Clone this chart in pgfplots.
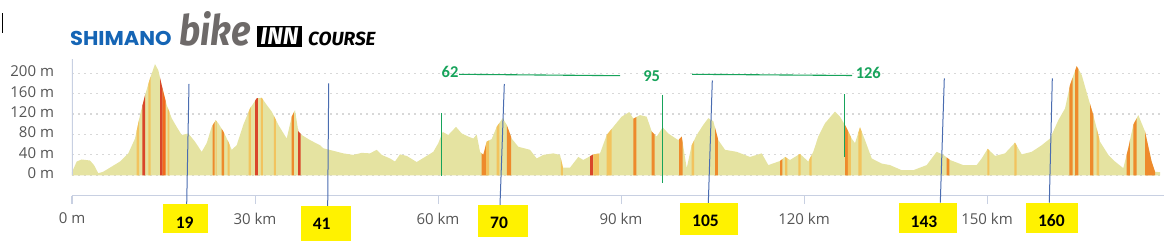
\documentclass[border=0pt]{standalone}
\usepackage{pgfplots}
\pgfplotsset{compat=1.18}
\usepackage{pgfplotstable}
\usepackage{fontspec}
\setmainfont{Open Sans}
\newfontfamily\numfont{Carlito}
\newfontfamily\logofont{Poppins}
\newfontfamily\bikefont{Fira Sans}
\definecolor{terrain}{HTML}{E5E3A1}
\definecolor{cL}{HTML}{F2C35E}
\definecolor{cO}{HTML}{EE8A2C}
\definecolor{cR}{HTML}{D9462A}
\definecolor{cOr}{HTML}{F26A1E}
\definecolor{axc}{HTML}{C8D0E2}
\definecolor{gridc}{HTML}{D8D8D8}
\definecolor{tickc}{HTML}{555555}
\definecolor{shimblue}{HTML}{1565B5}
\definecolor{bikegray}{HTML}{6E6A69}
\definecolor{annblue}{HTML}{4A6CB0}
\definecolor{anngreen}{HTML}{17A35B}

\pgfplotstableread{
km m
0 6
0.77 27
1.59 31
2.95 29
3.61 20
4.31 4
5.13 7
7.87 27
9.23 43
10.33 72
11.15 118
11.97 157
12.79 190
13.61 218
14.15 206
14.70 177
15.52 138
16.34 112
17.16 95
17.98 79
19.07 82
20.16 66
21.26 46
22.08 63
22.90 95
23.56 108
23.98 102
24.80 86
25.62 66
26.18 50
27.00 59
28.08 99
29.18 131
30.28 151
31.10 152
31.92 138
32.74 125
33.82 99
35.20 72
36.02 115
36.56 128
37.10 86
37.66 79
39.02 69
40.66 59
41.20 53
42.84 48
44.48 43
46.11 40
47.49 44
48.85 43
49.95 50
50.77 40
52.13 33
52.95 27
53.77 41
54.87 38
56.51 26
57.87 36
59.23 46
60.05 63
60.77 85
61.69 79
62.95 95
63.89 82
64.97 76
65.79 72
66.34 80
66.89 46
67.43 40
67.98 66
68.80 71
69.62 95
70.61 112
71.26 99
72.08 72
73.16 56
75.08 50
76.18 33
77.26 40
78.90 43
80.00 40
80.49 15
81.64 15
83.00 36
83.82 30
85.46 41
86.56 43
87.66 79
88.74 95
90.11 115
91.36 124
92.02 111
93.11 118
94.21 115
95.03 86
95.85 76
96.84 94
97.75 82
99.39 69
99.95 76
100.77 14
101.59 59
102.41 79
103.49 99
104.31 112
105.13 106
105.95 69
107.05 50
108.97 46
111.15 36
113.07 43
114.15 20
116.07 28
116.89 36
117.70 30
119.34 42
120.70 27
121.52 46
122.34 76
123.44 102
125.08 125
125.90 115
126.89 95
127.82 72
128.36 63
129.18 94
130.00 69
131.10 33
132.74 23
134.10 20
136.02 10
137.92 10
140.11 20
141.75 46
142.84 40
143.93 30
146.11 20
148.30 20
149.13 33
150.11 52
151.31 38
152.95 43
154.59 64
155.69 41
157.33 46
158.97 59
160.33 72
161.69 108
162.79 131
163.61 177
164.70 214
165.52 197
166.61 151
167.43 118
168.52 66
169.89 40
170.98 27
172.34 14
173.16 53
173.98 99
174.80 118
175.90 86
176.98 27
177.54 7
178.36 6
}\profile

\newcommand{\stripe}[3]{\begin{scope}
  \clip (axis cs:#2,-40) rectangle (axis cs:#3,228);
  \addplot[fill=#1,draw=none] table[x=km,y=m] {\profile} \closedcycle;
  \end{scope}}
\newcommand{\ybox}[7]{\fill[yellow] (#1,#2) rectangle (#3,#4);
  \node[font=\numfont\bfseries\fontsize{17.5}{17.5}\selectfont, inner sep=0] at (#5,#6) {#7};}

\begin{document}
\begin{tikzpicture}
\useasboundingbox (0,0) rectangle (1167pt,248pt);
\begin{axis}[
  at={(72pt,52.3pt)}, anchor=south west, scale only axis,
  width=1091.9pt, height=136.68pt,
  xmin=0, xmax=179, ymin=-40, ymax=228,
  axis line style={draw=none},
  xtick={0,30,60,90,120,150},
  xticklabels={0 m,30 km,60 km,90 km,120 km,150 km},
  ytick={0,40,80,120,160,200},
  yticklabels={0 m,40 m,80 m,120 m,160 m,200 m},
  xtick pos=bottom, ytick pos=left, tick align=outside,
  major tick length=8.5pt,
  xtick style={draw=axc, line width=1pt},
  ytick style={draw=none},
  ymajorgrids,
  grid style={gridc, line width=1.2pt, dash pattern=on 1.5pt off 4.5pt},
  tick label style={font=\fontsize{15}{15}\selectfont, text=tickc},
  yticklabel style={anchor=east, xshift=-6pt, yshift=2pt},
  xticklabel style={anchor=north, yshift=-5pt},
]
\addplot[fill=terrain, draw=none] table[x=km,y=m] {\profile} \closedcycle;
\stripe{cL}{10.60}{11.00}
\stripe{cR}{11.52}{11.97}
\stripe{cL}{12.54}{12.90}
\stripe{cR}{14.43}{14.87}
\stripe{cOr}{14.87}{15.36}
\stripe{cL}{15.66}{15.98}
\stripe{cO}{23.07}{23.39}
\stripe{cL}{23.56}{23.72}
\stripe{cO}{24.54}{24.92}
\stripe{cL}{25.52}{25.85}
\stripe{cL}{28.97}{29.34}
\stripe{cR}{30.00}{30.49}
\stripe{cL}{30.98}{31.31}
\stripe{cL}{33.11}{33.44}
\stripe{cO}{36.02}{36.39}
\stripe{cR}{37.05}{37.49}
\stripe{cO}{67.16}{67.87}
\stripe{cL}{67.87}{68.36}
\stripe{cL}{69.59}{70.08}
\stripe{cO}{71.31}{71.97}
\stripe{cL}{80.16}{80.49}
\stripe{cR}{84.92}{85.41}
\stripe{cL}{85.46}{86.39}
\stripe{cL}{87.66}{88.47}
\stripe{cO}{92.02}{92.51}
\stripe{cO}{95.03}{95.52}
\stripe{cO}{99.51}{100.11}
\stripe{cL}{101.59}{101.97}
\stripe{cO}{105.41}{105.90}
\stripe{cO}{116.07}{116.44}
\stripe{cL}{116.89}{117.26}
\stripe{cL}{119.07}{119.46}
\stripe{cL}{120.87}{121.26}
\stripe{cO}{126.72}{127.21}
\stripe{cL}{127.21}{127.70}
\stripe{cL}{128.90}{129.46}
\stripe{cO}{143.36}{143.85}
\stripe{cL}{150.05}{150.38}
\stripe{cL}{154.48}{154.87}
\stripe{cO}{163.49}{164.05}
\stripe{cO}{164.43}{164.97}
\stripe{cO}{166.89}{167.43}
\stripe{cL}{167.98}{168.36}
\stripe{cO}{172.90}{173.44}
\stripe{cO}{173.98}{174.54}
\stripe{cO}{175.90}{177.54}
\draw[axc, line width=1.2pt] (axis cs:0,-40) -- (axis cs:179,-40);
\draw[axc, line width=1pt] (axis cs:0,0) -- (axis cs:0,228);
\end{axis}

\begin{scope}[x=1pt,y=-1pt,shift={(0pt,248pt)}]
% stray mark
\draw[black, line width=1pt] (2,13.3) -- (2,33.3);
% logo
\node[anchor=base west, inner sep=0, text=shimblue, font=\logofont\bfseries\fontsize{20}{20}\selectfont, xscale=1.05] at (70,46) {SHIMANO};
\node[anchor=base west, inner sep=0, text=bikegray, font=\bikefont\bfseries\itshape\fontsize{42}{42}\selectfont, xscale=0.87] at (179,46) {bike};
\fill[black] (257,25.7) rectangle (302,46.7);
\node[text=white, inner sep=0, font=\bikefont\bfseries\itshape\fontsize{24}{24}\selectfont] at (279.5,36.2) {INN};
\node[anchor=base west, inner sep=0, font=\bikefont\bfseries\itshape\fontsize{19}{19}\selectfont] at (308,46) {COURSE};
% green annotations
\draw[anngreen, line width=1.1pt] (459,74.3) -- (620,75.7);
\draw[anngreen, line width=1.1pt] (692,74.3) -- (852,75.5);
\draw[anngreen, line width=1.1pt] (441.5,113.3) -- (441.5,175.7);
\draw[anngreen, line width=1.1pt] (662.5,95) -- (662.5,183.5);
\draw[anngreen, line width=1.1pt] (844.3,94.3) -- (844.3,157.5);
\node[text=anngreen, inner sep=0, font=\numfont\bfseries\fontsize{16.5}{16.5}\selectfont] at (450,71.7) {62};
\node[text=anngreen, inner sep=0, font=\numfont\bfseries\fontsize{16.5}{16.5}\selectfont] at (651.7,76.3) {95};
\node[text=anngreen, inner sep=0, font=\numfont\bfseries\fontsize{16.5}{16.5}\selectfont] at (868.3,72.7) {126};
% blue leader lines
\draw[annblue, line width=1pt] (189,84) -- (186.7,204);
\draw[annblue, line width=1pt] (328.7,83.3) -- (327.7,206);
\draw[annblue, line width=1pt] (504.3,84) -- (500,205);
\draw[annblue, line width=1pt] (712.3,80.5) -- (708.3,203.3);
\draw[annblue, line width=1pt] (944.3,78.3) -- (940.3,202.7);
\draw[annblue, line width=1pt] (1052.3,78.3) -- (1049.3,202.7);
% yellow boxes
\ybox{163}{204}{208}{233}{184.7}{222.8}{19}
\ybox{301}{206}{351}{241}{321.7}{224}{41}
\ybox{477.7}{205}{527.7}{236.7}{499}{223.3}{70}
\ybox{680}{203.3}{737.7}{235.3}{705.5}{220.8}{105}
\ybox{899}{202.7}{956.7}{233.3}{924}{221.5}{143}
\ybox{1026}{202.7}{1077.7}{232.7}{1051.3}{220.5}{160}
\end{scope}
\end{tikzpicture}
\end{document}
